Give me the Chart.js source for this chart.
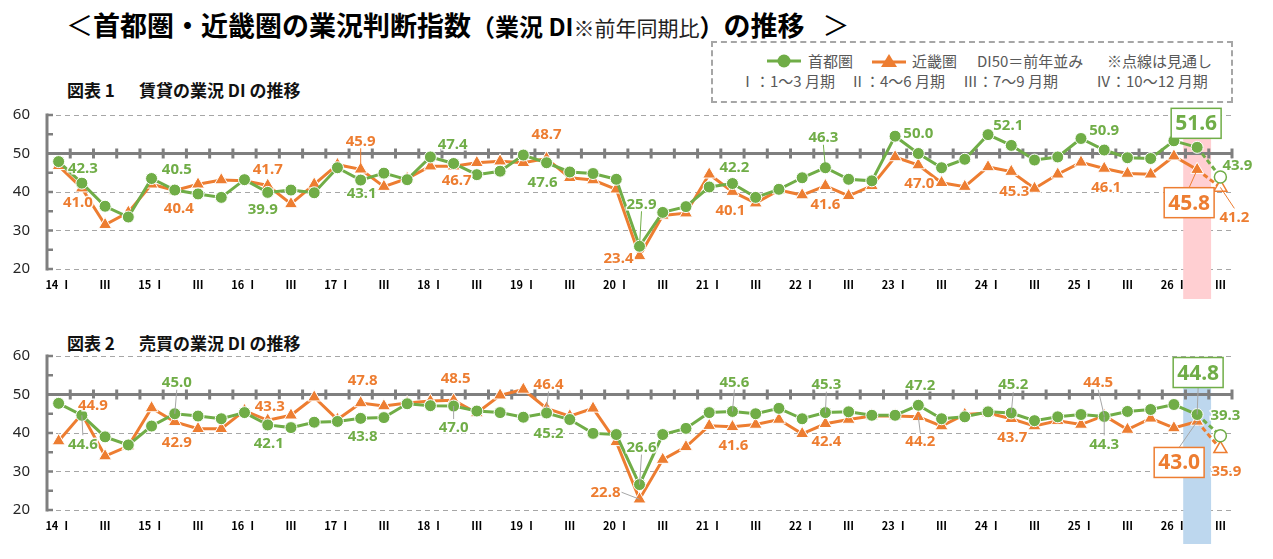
<!DOCTYPE html>
<html>
<head>
<meta charset="utf-8">
<script src="https://cdn.jsdelivr.net/npm/chart.js@4.4.1/dist/chart.umd.min.js"></script>
<style>
body{margin:0;width:1273px;height:559px;background:#fff;position:relative;overflow:hidden;font-family:"Noto Sans CJK JP",sans-serif;}
#title{position:absolute;left:66px;top:6px;white-space:nowrap;color:#000;font-weight:bold;font-size:27px;line-height:38px;}
#title .m{font-size:24px;}
#title .s{font-size:21px;font-weight:normal;color:#222;}
#title .n{font-weight:normal;}
.sub{position:absolute;font-weight:bold;font-size:17px;color:#111;white-space:nowrap;line-height:20px;}
#legend{position:absolute;left:711px;top:41px;width:518px;height:58px;border:2px dashed #A6A6A6;}
#legend span{position:absolute;font-size:15px;color:#595959;white-space:nowrap;line-height:18px;}
#legend svg{position:absolute;}
.wrap{position:absolute;left:0;width:1273px;height:200px;}
.wrap canvas{display:block;}
</style>
</head>
<body>
<div id="title"><span class="n">＜</span>首都圏・近畿圏の業況判断指数<span class="m">（業況 DI</span><span class="s">※前年同期比</span><span class="m">）</span>の推移<span class="n" style="margin-left:18px">＞</span></div>
<div id="legend">
  <svg style="left:54px;top:10px" width="34" height="16"><line x1="0" y1="8" x2="34" y2="8" stroke="#70AD47" stroke-width="3"/><circle cx="17" cy="8" r="6.5" fill="#70AD47"/></svg>
  <span style="left:95px;top:9px">首都圏</span>
  <svg style="left:159px;top:10px" width="34" height="16"><line x1="0" y1="9" x2="34" y2="9" stroke="#ED7D31" stroke-width="3"/><polygon points="17,1 25,14 9,14" fill="#ED7D31"/></svg>
  <span style="left:199px;top:9px">近畿圏</span>
  <span style="left:264px;top:9px">DI50＝前年並み</span>
  <span style="left:394px;top:9px">※点線は見通し</span>
  <span style="left:27px;top:29px">Ⅰ：1～3 月期</span>
  <span style="left:137px;top:29px">Ⅱ：4～6 月期</span>
  <span style="left:250px;top:29px">Ⅲ：7～9 月期</span>
  <span style="left:383px;top:29px">Ⅳ：10～12 月期</span>
</div>
<div class="sub" style="top:80px;left:67px">図表 1</div>
<div class="sub" style="top:80px;left:139px">賃貸の業況 DI の推移</div>
<div class="sub" style="top:333px;left:67px">図表 2</div>
<div class="sub" style="top:333px;left:139px">売買の業況 DI の推移</div>
<div class="wrap" style="top:100px"><canvas id="rentChart" width="1273" height="200"></canvas></div>
<div class="wrap" style="top:345px"><canvas id="saleChart" width="1273" height="200"></canvas></div>
<script>
var quarters=["14 Ⅰ","14 Ⅱ","14 Ⅲ","14 Ⅳ","15 Ⅰ","15 Ⅱ","15 Ⅲ","15 Ⅳ","16 Ⅰ","16 Ⅱ","16 Ⅲ","16 Ⅳ",
"17 Ⅰ","17 Ⅱ","17 Ⅲ","17 Ⅳ","18 Ⅰ","18 Ⅱ","18 Ⅲ","18 Ⅳ","19 Ⅰ","19 Ⅱ","19 Ⅲ","19 Ⅳ",
"20 Ⅰ","20 Ⅱ","20 Ⅲ","20 Ⅳ","21 Ⅰ","21 Ⅱ","21 Ⅲ","21 Ⅳ","22 Ⅰ","22 Ⅱ","22 Ⅲ","22 Ⅳ",
"23 Ⅰ","23 Ⅱ","23 Ⅲ","23 Ⅳ","24 Ⅰ","24 Ⅱ","24 Ⅲ","24 Ⅳ","25 Ⅰ","25 Ⅱ","25 Ⅲ","25 Ⅳ",
"26 Ⅰ","26 Ⅱ","26 Ⅲ"];
var tickLabels=["14 Ⅰ","","Ⅲ","","15 Ⅰ","","Ⅲ","","16 Ⅰ","","Ⅲ","",
"17 Ⅰ","","Ⅲ","","18 Ⅰ","","Ⅲ","","19 Ⅰ","","Ⅲ","",
"20 Ⅰ","","Ⅲ","","21 Ⅰ","","Ⅲ","","22 Ⅰ","","Ⅲ","",
"23 Ⅰ","","Ⅲ","","24 Ⅰ","","Ⅲ","","25 Ⅰ","","Ⅲ","",
"26 Ⅰ","","Ⅲ"];

// 賃貸
var rentShutoken=[47.9,42.3,36.3,33.5,43.5,40.5,39.5,38.6,43.2,39.9,40.5,39.8,
46.3,43.1,44.9,43.2,49.1,47.4,44.5,45.4,49.6,47.6,45.2,44.8,
43.3,25.9,34.7,36.2,41.3,42.2,38.6,40.7,43.7,46.3,43.3,42.9,
54.5,50.0,46.3,48.5,54.9,52.1,48.3,49.1,53.9,50.9,48.9,48.7,
53.3,51.6,43.9];
var rentKinki=[46.8,41.0,31.5,34.7,42.0,40.4,42.0,43.1,42.9,41.7,36.9,42.0,
47.1,45.9,41.4,43.5,46.7,46.7,47.6,48.0,47.6,48.7,43.7,43.1,
40.7,23.4,33.9,34.5,44.6,40.1,37.1,40.5,39.2,41.6,39.0,41.6,
49.1,47.0,42.4,41.4,46.5,45.3,40.9,44.6,47.7,46.1,44.8,44.6,
49.3,45.8,41.2];

// 売買
var saleShutoken=[47.7,44.6,39.0,36.9,41.8,45.0,44.4,43.7,45.3,42.1,41.4,42.8,
43.0,43.8,44.0,47.6,47.1,47.0,45.7,45.3,44.1,45.2,43.5,39.9,
39.6,26.6,39.6,41.2,45.3,45.6,45.0,46.4,43.7,45.3,45.5,44.6,
44.6,47.2,43.7,44.2,45.5,45.2,43.2,44.2,44.8,44.3,45.6,46.1,
47.4,44.8,39.3];
var saleKinki=[37.9,44.9,34.0,36.6,46.5,42.9,41.1,41.1,45.8,43.3,44.6,49.3,
43.5,47.8,47.0,47.8,48.3,48.5,45.2,49.8,51.3,46.4,44.4,46.4,
37.7,22.8,33.1,36.4,41.9,41.6,42.2,43.5,39.8,42.4,43.5,44.4,
44.4,44.2,41.8,44.8,45.2,43.7,41.8,43.2,42.2,44.5,40.9,43.8,
41.3,43.0,35.9];

var GREEN="#70AD47", ORANGE="#ED7D31";

// label placement: [index, dx, dy, leader]
var rentNotes={
  g:[[1,1,-15],[5,2,-21],[9,-5,16],[13,1,13],[17,-1,-20],[21,-4,19],[25,2,-43,1],[29,2,-17],[33,-2,-31,1],[37,0,-21],[41,-3,-21],[45,0,-20],[50,17,-12]],
  o:[[1,-4,14],[5,4,17],[9,0,-17],[13,0,-29,1],[17,3,14],[21,0,-25],[25,-21,2],[29,-2,18],[33,0,18],[37,1,18],[41,3,19],[45,2,18],[50,14,29,1]],
  gBox:[49,-1,-24,0], oBox:[49,-8,33,1], lead:"series"
};
var saleNotes={
  g:[[1,1,28,1],[5,2,-32,1],[9,1,18],[13,2,17],[17,0,21,1],[21,2,20],[25,2,-38,1],[29,2,-30,1],[33,1,-29,1],[37,2,-21],[41,2,-29,1],[45,0,27,1],[50,5,-21]],
  o:[[1,11,-9],[5,2,20],[9,2,-15],[13,2,-23],[17,2,-23],[21,2,-25,1],[25,-34,-7,1],[29,1,18],[33,1,17],[37,2,24,1],[41,1,18],[45,-6,-34,1],[50,6,22]],
  gBox:[49,1,-42,1], oBox:[49,-18,41,1], lead:"#A6A6A6"
};

function seg(ctx,x1,y1,x2,y2){ctx.beginPath();ctx.moveTo(x1,y1);ctx.lineTo(x2,y2);ctx.stroke();}

var decor={
  id:"decor",
  beforeDatasetsDraw:function(chart,args,o){
    var ctx=chart.ctx, a=chart.chartArea, x=chart.scales.x, y=chart.scales.y;
    var n=chart.data.labels.length, w=(a.right-a.left)/n;
    ctx.save();
    // highlight column
    var bx=x.getPixelForValue(o.band);
    ctx.fillStyle=o.bandColor;
    ctx.fillRect(bx-w*0.6,a.top+o.bandTop,w*1.2,o.bandBottom-(a.top+o.bandTop));
    // DI50 line with quarter ticks
    var y50=y.getPixelForValue(50);
    ctx.strokeStyle="#7F7F7F"; ctx.lineWidth=3;
    seg(ctx,a.left,y50,a.right,y50);
    for(var i=1;i<=n;i++){var tx=a.left+i*w; seg(ctx,tx,y50-5,tx,y50+5);}
    // left axis with inner ticks
    seg(ctx,a.left,a.top-1.5,a.left,a.bottom+1.5);
    ctx.lineWidth=2.5;
    for(var v=20;v<=60;v+=5){var ty=y.getPixelForValue(v); seg(ctx,a.left,ty,a.left+6,ty);}
    ctx.restore();
  },
  afterDatasetsDraw:function(chart,args,o){
    var ctx=chart.ctx, notes=o.notes;
    ctx.save();
    ctx.textAlign="center"; ctx.textBaseline="middle";
    function put(dsi,spec,color,box){
      var pt=chart.getDatasetMeta(dsi).data[spec[0]];
      var val=chart.data.datasets[dsi].data[spec[0]].toFixed(1);
      var tx=pt.x+spec[1], ty=pt.y+spec[2];
      ctx.font=box?"bold 21px 'Noto Sans'":"bold 15px 'Noto Sans'";
      var tw=ctx.measureText(val).width;
      var hw=box?tw/2+4:tw/2+1, hh=box?15:8;
      if(spec[3]){
        ctx.strokeStyle=notes.lead==="series"?color:notes.lead; ctx.lineWidth=1;
        var ex=tx, ey=ty;
        if(Math.abs(spec[1])>Math.abs(spec[2])){ex=tx+(spec[1]<0?hw:-hw);}
        else{ey=ty+(spec[2]<0?hh:-hh);}
        seg(ctx,pt.x,pt.y,ex,ey);
      }
      if(box){
        ctx.fillStyle="#fff"; ctx.fillRect(tx-hw,ty-hh,hw*2,hh*2);
        ctx.strokeStyle=color; ctx.lineWidth=1.5; ctx.strokeRect(tx-hw,ty-hh,hw*2,hh*2);
      }else{
        ctx.strokeStyle="rgba(255,255,255,0.9)"; ctx.lineWidth=3; ctx.strokeText(val,tx,ty+1);
      }
      ctx.fillStyle=color; ctx.fillText(val,tx,ty+1);
    }
    notes.g.forEach(function(s){put(0,s,GREEN,false);});
    notes.o.forEach(function(s){put(1,s,ORANGE,false);});
    put(0,notes.gBox,GREEN,true);
    put(1,notes.oBox,ORANGE,true);
    ctx.restore();
  }
};

function series(label,data,color,shape,radius){
  var last=data.length-1;
  return {
    label:label, data:data, borderColor:color, borderWidth:3, pointStyle:shape, pointRadius:radius,
    pointBackgroundColor:data.map(function(v,i){return i===last?"#fff":color;}),
    pointBorderColor:data.map(function(v,i){return i===last?color:"#fff";}),
    pointBorderWidth:data.map(function(v,i){return i===last?1.5:1;}),
    tension:0, fill:false,
    segment:{borderDash:function(c){return c.p1DataIndex===last?[5,3]:undefined;}}
  };
}

function makeChart(id,shutoken,kinki,notes,padTop,axisH,bandColor,bandTop){
  return new Chart(document.getElementById(id),{
    type:"line",
    data:{labels:quarters,datasets:[
      series("首都圏",shutoken,GREEN,"circle",6),
      series("近畿圏",kinki,ORANGE,"triangle",7.5)
    ]},
    options:{
      responsive:false, animation:false, devicePixelRatio:1,
      layout:{autoPadding:false,padding:{top:padTop,right:41,left:0,bottom:0}},
      plugins:{legend:{display:false},tooltip:{enabled:false},
        decor:{notes:notes,band:49,bandColor:bandColor,bandTop:bandTop,bandBottom:199}},
      scales:{
        x:{offset:true,grid:{display:false,drawTicks:false},border:{display:false},
          ticks:{autoSkip:false,maxRotation:0,padding:9,color:"#000",
            font:{size:11,weight:"bold",family:"'Noto Sans CJK JP'"},
            callback:function(v,i){return tickLabels[i];}},
          afterFit:function(s){s.height=axisH;}},
        y:{min:20,max:60,
          ticks:{stepSize:5,padding:17,color:"#262626",font:{size:15,family:"'Noto Sans'"},
            callback:function(v){return v%10===0?v:"";}},
          grid:{color:"#A6A6A6",lineWidth:1,drawTicks:false},
          border:{display:false,dash:[5,4]},
          afterFit:function(s){s.width=47;s.paddingTop=0;s.paddingBottom=0;}}
      }
    },
    plugins:[decor]
  });
}

makeChart("rentChart",rentShutoken,rentKinki,rentNotes,15,31,"#FFCFD2",23);
makeChart("saleChart",saleShutoken,saleKinki,saleNotes,11,35,"#BDD7EE",31);
</script>
</body>
</html>
